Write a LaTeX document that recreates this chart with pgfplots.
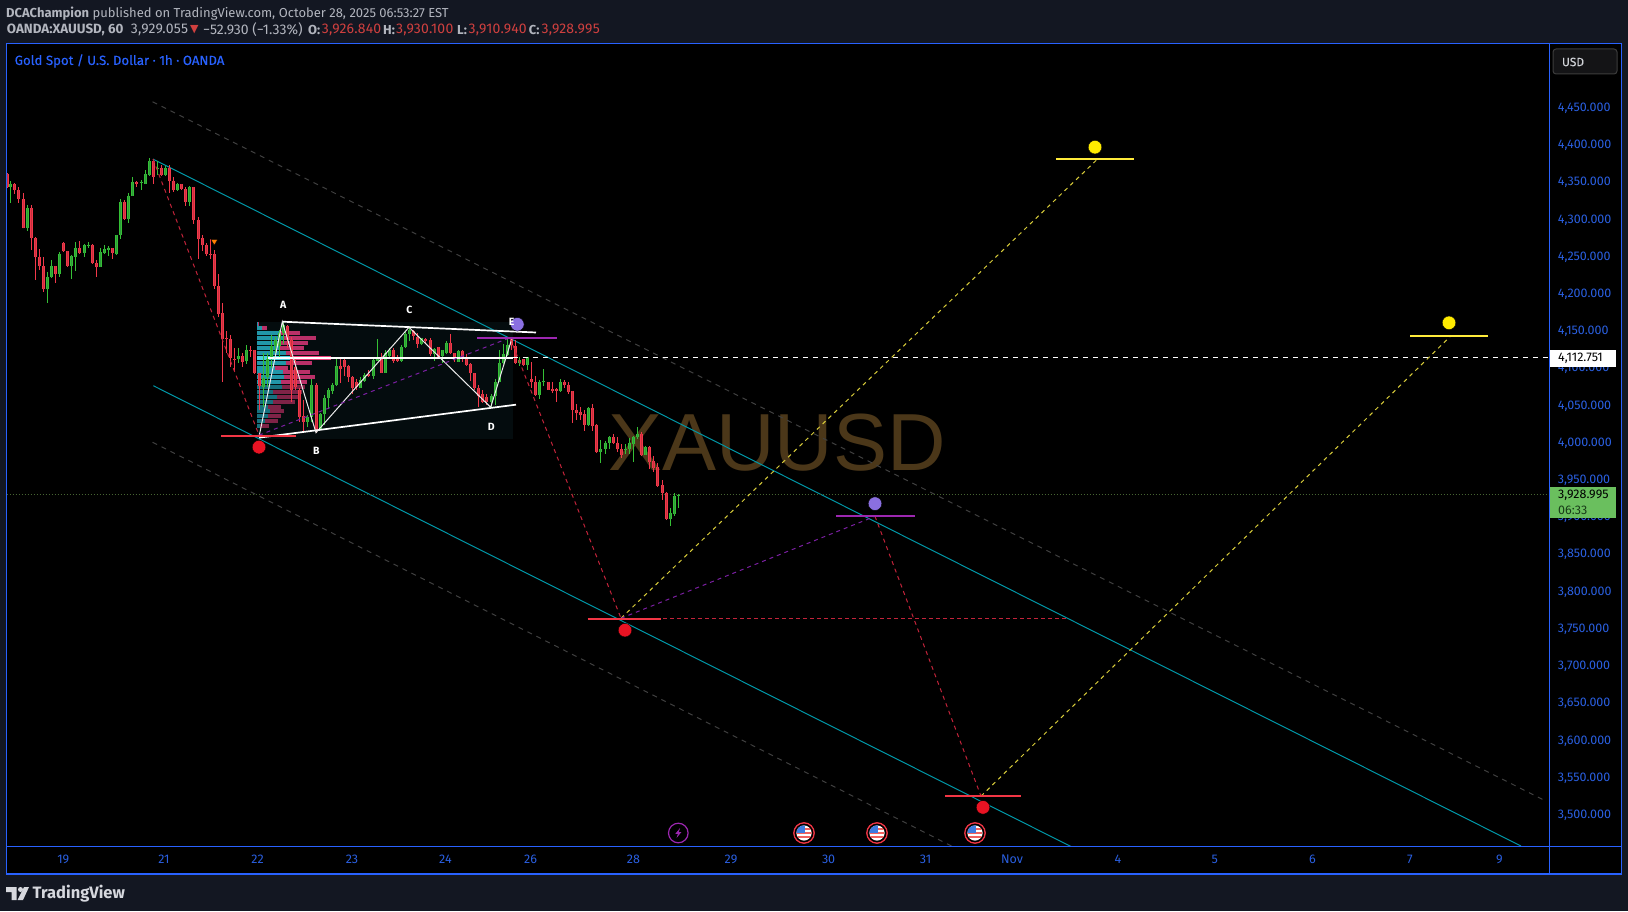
\documentclass[border=0pt]{standalone}
\usepackage{pgfplots}
\usepackage{pgfplotstable}
\pgfplotsset{compat=1.18}
\usepackage{fontspec}
\setmainfont{Fira Sans}
\newfontfamily\wmfont{Liberation Sans}
\newfontfamily\symfont{DejaVu Sans}
\newfontfamily\numfont[LetterSpace=1.6]{Fira Sans}
\newfontfamily\medfont[FakeBold=0.3]{Fira Sans}
\definecolor{pagebg}{HTML}{131722}
\definecolor{tvblue}{HTML}{2962FF}
\definecolor{ticktxt}{HTML}{2A5FE0}
\definecolor{headtxt}{HTML}{B2B5BE}
\definecolor{ohlcred}{HTML}{D0403F}
\definecolor{upc}{HTML}{35C035}
\definecolor{upin}{HTML}{2E9A3A}
\definecolor{dnc}{HTML}{F2384A}
\definecolor{dnin}{HTML}{C8303E}
\definecolor{teal1}{HTML}{0097A7}
\definecolor{graydash}{HTML}{404040}
\definecolor{redd}{HTML}{C2233A}
\definecolor{redl}{HTML}{F23645}
\definecolor{yell}{HTML}{D8CC3A}
\definecolor{yells}{HTML}{FFEB3B}
\definecolor{purd}{HTML}{7B1FA2}
\definecolor{purs}{HTML}{9C27B0}
\definecolor{purdot}{HTML}{8A6FE0}
\definecolor{volT}{HTML}{2196A8}
\definecolor{volP}{HTML}{B93068}
\definecolor{volTd}{HTML}{17707E}
\definecolor{volPd}{HTML}{7F2347}
\definecolor{volTh}{HTML}{4DD0E1}
\definecolor{volPh}{HTML}{EC407A}
\definecolor{flagblue}{HTML}{3D7BE0}
\definecolor{flagred}{HTML}{F0625F}
\definecolor{panelbg}{RGB}{4,12,14}
\definecolor{wmark}{RGB}{75,55,25}
\definecolor{lastline}{RGB}{70,100,50}
\definecolor{reddot}{RGB}{233,19,35}
\definecolor{yeldot}{RGB}{255,235,0}
\definecolor{lastbox}{RGB}{106,191,94}
\definecolor{lasttime}{RGB}{25,60,25}
\definecolor{btnline}{RGB}{60,60,60}
\definecolor{btnfill}{RGB}{20,20,22}
\definecolor{footer}{HTML}{D6D8DE}

\pgfdeclareplotmark{usflag}{%
  \pgfsetlinewidth{1.3pt}\pgfsetstrokecolor{redl}%
  \pgfpathcircle{\pgfpointorigin}{10.2pt}\pgfusepath{stroke}%
  \pgfsetfillcolor{white}%
  \pgfpathcircle{\pgfpointorigin}{7.6pt}\pgfusepath{fill}%
  \pgfscope
  \pgfpathcircle{\pgfpointorigin}{7.6pt}\pgfusepath{clip}%
  \pgfsetfillcolor{flagred}%
  \pgfpathrectangle{\pgfpoint{-8pt}{2.6pt}}{\pgfpoint{16pt}{2pt}}\pgfusepath{fill}%
  \pgfpathrectangle{\pgfpoint{-8pt}{-1pt}}{\pgfpoint{16pt}{2pt}}\pgfusepath{fill}%
  \pgfpathrectangle{\pgfpoint{-8pt}{-5.4pt}}{\pgfpoint{16pt}{2.4pt}}\pgfusepath{fill}%
  \pgfsetfillcolor{flagblue}%
  \pgfpathrectangle{\pgfpoint{-8pt}{0.4pt}}{\pgfpoint{8.6pt}{8pt}}\pgfusepath{fill}%
  \endpgfscope
}
\pgfdeclareplotmark{boltmark}{%
  \pgfsetlinewidth{1.2pt}\pgfsetstrokecolor{purs}%
  \pgfpathcircle{\pgfpointorigin}{9.8pt}\pgfusepath{stroke}%
  \pgfsetfillcolor{purs}%
  \pgfpathmoveto{\pgfpoint{1.8pt}{5pt}}%
  \pgfpathlineto{\pgfpoint{-3pt}{-0.8pt}}%
  \pgfpathlineto{\pgfpoint{-0.4pt}{-0.8pt}}%
  \pgfpathlineto{\pgfpoint{-1.8pt}{-5pt}}%
  \pgfpathlineto{\pgfpoint{3pt}{0.8pt}}%
  \pgfpathlineto{\pgfpoint{0.4pt}{0.8pt}}%
  \pgfpathclose\pgfusepath{fill}%
}

\pgfplotstableread{
x o h l c
7.3 4360 4361 4342 4343
14.3 4347 4348 4333 4339
18.3 4339 4342 4321 4327
23.3 4327 4335 4287 4287
31.3 4314 4318 4258 4274
35.3 4274 4275 4217 4248
39.3 4248 4259 4231 4237
43.3 4237 4248 4201 4205
55.3 4236 4237 4213 4225
63.3 4267 4269 4255 4256
67.3 4256 4256 4235 4237
79.3 4261 4270 4253 4254
92.3 4265 4266 4239 4240
96.3 4240 4245 4222 4235
112.3 4260 4260 4246 4254
124.3 4323 4325 4299 4300
136.3 4349 4350 4342 4347
153.3 4377 4380 4347 4356
161.3 4368 4372 4357 4359
169.3 4368 4372 4334 4350
173.3 4350 4356 4336 4338
181.3 4346 4347 4339 4340
185.3 4340 4343 4317 4323
193.3 4343 4343 4293 4298
198.3 4298 4302 4246 4273
202.3 4274 4278 4256 4264
206.3 4264 4267 4250 4252
210.3 4253 4272 4246 4252
214.3 4253 4258 4205 4210
218.3 4210 4225 4168 4172
222.3 4173 4187 4081 4138
226.3 4139 4149 4119 4138
230.3 4138 4144 4101 4113
234.3 4112 4126 4094 4111
242.3 4115 4119 4101 4108
250.3 4124 4129 4114 4123
254.3 4123 4124 4091 4092
259.3 4092 4093 4043 4075
287.3 4156 4157 4126 4137
291.3 4137 4141 4054 4070
295.3 4101 4114 4070 4074
299.3 4070 4072 4027 4034
303.3 4035 4056 4014 4027
316.3 4076 4079 4012 4016
340.3 4102 4112 4079 4098
344.3 4110 4112 4088 4101
348.3 4102 4103 4080 4087
352.3 4087 4088 4065 4073
356.3 4081 4085 4070 4074
368.3 4091 4097 4087 4089
381.3 4111 4120 4093 4093
393.3 4124 4126 4106 4109
397.3 4111 4117 4108 4109
413.3 4149 4151 4137 4142
417.3 4141 4146 4126 4132
425.3 4138 4140 4132 4136
430.3 4137 4139 4116 4118
438.3 4127 4128 4111 4114
450.3 4133 4145 4118 4119
454.3 4119 4120 4108 4112
462.3 4122 4123 4108 4113
466.3 4112 4118 4102 4103
470.3 4105 4106 4082 4092
474.3 4092 4092 4070 4072
478.3 4073 4076 4047 4061
482.3 4065 4070 4052 4054
486.3 4060 4064 4050 4053
511.3 4138 4140 4123 4130
515.3 4129 4137 4105 4106
523.3 4111 4112 4102 4103
531.3 4085 4108 4072 4081
535.3 4081 4089 4062 4063
548.3 4081 4081 4070 4070
552.3 4071 4081 4066 4069
556.3 4071 4072 4054 4069
564.3 4080 4083 4073 4076
568.3 4077 4080 4065 4067
572.3 4068 4069 4025 4043
576.3 4043 4051 4029 4039
580.3 4040 4047 4029 4036
584.3 4037 4043 4015 4023
592.3 4045 4051 4014 4021
596.3 4023 4024 3985 3987
613.3 4006 4010 3998 3999
617.3 3999 4007 3986 3990
621.3 3990 3997 3979 3982
641.3 4010 4013 3982 3983
649.3 3993 3994 3964 3973
653.3 3974 3981 3960 3965
657.3 3966 3971 3940 3941
662.3 3942 3949 3922 3932
666.3 3932 3933 3896 3897
}\downcandles
\pgfplotstableread{
x o h l c
10.3 4342 4350 4321 4347
27.3 4287 4318 4284 4314
47.3 4205 4228 4186 4221
51.3 4221 4244 4220 4236
59.3 4225 4255 4222 4253
71.3 4237 4251 4219 4250
75.3 4249 4269 4230 4261
84.3 4254 4266 4249 4264
88.3 4263 4268 4261 4265
100.3 4235 4260 4235 4255
104.3 4254 4265 4252 4259
108.3 4258 4263 4250 4261
116.3 4253 4278 4251 4278
120.3 4278 4327 4273 4323
128.3 4300 4334 4294 4331
132.3 4331 4356 4330 4349
141.3 4348 4352 4338 4349
145.3 4347 4365 4347 4360
149.3 4359 4381 4357 4377
157.3 4366 4377 4359 4368
165.3 4359 4371 4357 4368
177.3 4338 4348 4337 4346
189.3 4323 4344 4317 4343
238.3 4111 4126 4106 4115
246.3 4109 4130 4105 4124
263.3 4074 4120 4047 4086
267.3 4087 4119 4074 4112
271.3 4112 4143 4099 4129
275.3 4129 4141 4119 4137
279.3 4129 4150 4114 4146
283.3 4146 4162 4132 4157
307.3 4027 4036 4020 4034
311.3 4033 4085 4027 4076
320.3 4016 4039 4016 4037
324.3 4037 4063 4023 4059
328.3 4059 4072 4044 4070
332.3 4069 4079 4065 4076
336.3 4076 4112 4075 4102
360.3 4073 4087 4072 4083
364.3 4082 4092 4081 4090
373.3 4089 4112 4085 4110
377.3 4109 4138 4109 4112
385.3 4093 4123 4092 4120
389.3 4115 4126 4114 4124
401.3 4109 4130 4108 4127
405.3 4127 4149 4126 4145
409.3 4145 4154 4135 4150
421.3 4132 4140 4130 4139
434.3 4118 4126 4109 4125
442.3 4115 4123 4106 4123
446.3 4119 4135 4118 4133
458.3 4108 4123 4107 4122
491.3 4054 4064 4047 4062
495.3 4061 4084 4050 4081
499.3 4080 4123 4080 4106
503.3 4106 4132 4105 4118
507.3 4117 4138 4115 4130
519.3 4106 4114 4102 4110
527.3 4103 4114 4097 4114
539.3 4063 4083 4058 4081
543.3 4081 4098 4075 4082
560.3 4068 4084 4067 4080
588.3 4023 4047 4022 4045
600.3 3987 4003 3972 3990
605.3 3990 4001 3984 3999
609.3 3998 4008 3991 4006
625.3 3989 3997 3984 3990
629.3 3990 4005 3984 3998
633.3 3997 4008 3973 4006
637.3 4006 4020 4004 4010
645.3 3983 3994 3982 3993
670.3 3897 3911 3887 3904
674.3 3903 3931 3900 3927
678.3 3927 3930 3911 3929
}\upcandles
% volume profile rows: price, buy width, sell width (chart x units)
\pgfplotstableread{
p t s
4158.5 1 1
4152.6 4.3 5
4146.8 22 20.7
4140.1 26 32.7
4133.4 22.7 28
4126.7 22.7 24
4119.9 28.7 33
4106.5 28.7 26
4099.8 17.7 13
4094.0 26 26.7
4087.2 27 30.7
4080.5 23.7 26
}\volrows
\pgfplotstableread{
p t s
4073.8 24.3 23
4067.1 15.3 29
4060.4 19.3 21.7
4053.6 15.3 22.3
4047.4 10.3 13.3
4041.1 12.7 14
4034.4 10.3 13.3
4028.1 7.7 12.7
4021.9 2.7 9
}\volrowsd
\pgfplotstableread{
p t s
4112.8 33.3 40
}\volrowsh

\pgfplotsset{
  wick/.style args={#1}{forget plot, draw=none, error bars/.cd, y dir=both, y explicit, error mark=none,
     error bar style={draw=#1, line width=1pt}},
  body/.style args={#1/#2}{forget plot, draw=none, error bars/.cd, y dir=both, y explicit, error mark=none,
     error bar style={draw=#1, line width=#2}},
  vol/.style args={#1}{forget plot, draw=none, error bars/.cd, x dir=plus, x explicit, error mark=none,
     error bar style={draw=#1, line width=4.1pt}},
}
\begin{document}
\begin{tikzpicture}
\useasboundingbox (0,0) rectangle (1628pt,911pt);
\fill[pagebg] (0,0) rectangle (1628pt,911pt);
\fill[black] (6.5pt,37pt) rectangle (1621.7pt,867.5pt);
\node[anchor=center, text=wmark, font=\wmfont\fontsize{81pt}{81pt}\selectfont] at (777pt,468pt) {XAUUSD};
\begin{axis}[
  at={(6.5pt,64.3pt)}, anchor=south west,
  scale only axis, width=1542.8pt, height=803.2pt,
  xmin=6.5, xmax=1549.3, ymin=3456.1, ymax=4535.3,
  axis line style={draw=none},
  major tick length=0pt,
  xtick={63.3,164,257.5,352,445.4,530.6,633.4,731,828.6,925.5,1012,1118,1214.8,1312.4,1410,1499.3},
  xticklabels={19,21,22,23,24,26,28,29,30,31,Nov,4,5,6,7,9},
  xticklabel style={anchor=center, yshift=-13pt, text=ticktxt, font=\fontsize{12.5pt}{14pt}\selectfont},
  ytick={3500,3550,...,4450},
  ytick pos=right, yticklabel pos=right,
  yticklabel style={anchor=west, xshift=5pt, yshift=-1.2pt, text=ticktxt, font=\fontsize{12.5pt}{14pt}\selectfont,
     /pgf/number format/.cd, fixed, fixed zerofill, precision=3, 1000 sep={,}, assume math mode=true},
  scaled y ticks=false,
  clip=true,
]
% volume profile panel
\addplot[forget plot, draw=none, fill=panelbg] coordinates {(257.3,4161.5)(513.3,4161.5)(513.3,4004)(257.3,4004)} -- cycle;
\addplot[vol={volT}] table[x expr=257.3, y=p, x error plus=t]{\volrows};
\addplot[vol={volP}] table[x expr=257.3+\thisrow{t}, y=p, x error plus=s]{\volrows};
\addplot[vol={volTd}] table[x expr=257.3, y=p, x error plus=t]{\volrowsd};
\addplot[vol={volPd}] table[x expr=257.3+\thisrow{t}, y=p, x error plus=s]{\volrowsd};
\addplot[vol={volTh}] table[x expr=257.3, y=p, x error plus=t]{\volrowsh};
\addplot[vol={volPh}] table[x expr=257.3+\thisrow{t}, y=p, x error plus=s]{\volrowsh};
% channel
\addplot[forget plot, teal1, line width=1pt] coordinates {(153,4380)(1521,3457)};
\addplot[forget plot, teal1, line width=1pt] coordinates {(153.3,4075.5)(1071.5,3456)};
\addplot[forget plot, graydash, line width=1pt, dash pattern=on 5pt off 5pt] coordinates {(152.6,4457)(1545,3518)};
\addplot[forget plot, graydash, line width=1pt, dash pattern=on 5pt off 5pt] coordinates {(152.6,3999.5)(953,3456)};
% last price line
\addplot[forget plot, lastline, line width=0.8pt, dash pattern=on 1pt off 2pt] coordinates {(6.5,3928.995)(1549.3,3928.995)};
% candles
\addplot[wick={dnc}] table[x=x, y=c, y error plus expr=\thisrow{h}-\thisrow{c}, y error minus expr=\thisrow{c}-\thisrow{l}]{\downcandles};
\addplot[wick={upc}] table[x=x, y=c, y error plus expr=\thisrow{h}-\thisrow{c}, y error minus expr=\thisrow{c}-\thisrow{l}]{\upcandles};
\addplot[body={dnc/3.2pt}] table[x=x, y=c, y error plus expr=\thisrow{o}-\thisrow{c}, y error minus expr=0]{\downcandles};
\addplot[body={upc/3.2pt}] table[x=x, y=c, y error plus expr=0, y error minus expr=\thisrow{c}-\thisrow{o}]{\upcandles};
\addplot[body={dnin/1.2pt}] table[x=x, y=c, y error plus expr=\thisrow{o}-\thisrow{c}, y error minus expr=0]{\downcandles};
\addplot[body={upin/1.2pt}] table[x=x, y=c, y error plus expr=0, y error minus expr=\thisrow{c}-\thisrow{o}]{\upcandles};
% XABCD pattern
\addplot[forget plot, white, line width=1.7pt] coordinates {(282.3,4161.5)(536,4147)};
\addplot[forget plot, white, line width=1.7pt] coordinates {(259,4005.7)(516,4050)};
\addplot[forget plot, white, line width=1.5pt] coordinates {(268,4112.751)(513,4112.751)};
\addplot[forget plot, white, line width=1pt, dash pattern=on 5pt off 5pt] coordinates {(513,4112.751)(1549.3,4112.751)};
\addplot[forget plot, white!85!gray, line width=1pt] coordinates {(259,4006.6)(282.3,4161.5)(316,4012.4)(409,4154)(490.7,4046.5)(511.7,4138)};
% wave projections
\addplot[forget plot, redd, line width=1pt, dash pattern=on 4pt off 4pt] coordinates {(153,4380)(259,4009)};
\addplot[forget plot, redd, line width=1pt, dash pattern=on 4pt off 4pt] coordinates {(510,4140)(621,3763)};
\addplot[forget plot, redd, line width=1pt, dash pattern=on 4pt off 4pt] coordinates {(875,3900)(981,3524)};
\addplot[forget plot, redd, line width=0.6pt, dash pattern=on 4pt off 3pt] coordinates {(628,3763)(1066,3763)};
\addplot[forget plot, yell, line width=1pt, dash pattern=on 4pt off 4pt] coordinates {(621,3763)(1097.5,4380)};
\addplot[forget plot, yell, line width=1pt, dash pattern=on 4pt off 4pt] coordinates {(981,3524)(1450.5,4142)};
\addplot[forget plot, purd, line width=1pt, dash pattern=on 4pt off 4pt] coordinates {(259,4009)(510,4140)};
\addplot[forget plot, purd, line width=1pt, dash pattern=on 4pt off 4pt] coordinates {(621,3763)(875,3900)};
% horizontal targets
\addplot[forget plot, redl, line width=2pt] coordinates {(221,4008.4)(296,4008.4)};
\addplot[forget plot, redl, line width=2pt] coordinates {(587.6,3762.7)(661.4,3762.7)};
\addplot[forget plot, redl, line width=2pt] coordinates {(945,3524.6)(1020.7,3524.6)};
\addplot[forget plot, purs, line width=1.7pt] coordinates {(477.3,4140)(556.7,4140)};
\addplot[forget plot, purs, line width=1.7pt] coordinates {(836,3900)(914.7,3900)};
\addplot[forget plot, yells, line width=1.7pt] coordinates {(1056,4380)(1134,4380)};
\addplot[forget plot, yells, line width=1.7pt] coordinates {(1410,4142)(1488,4142)};
% dots
\addplot[forget plot, only marks, mark=*, mark size=6.8pt, mark options={fill=reddot, draw=none}] coordinates {(259,3993)(625,3747)(983,3509)};
\addplot[forget plot, only marks, mark=*, mark size=6.8pt, mark options={fill=purdot, draw=none}] coordinates {(517.3,4158)(875,3917)};
\addplot[forget plot, only marks, mark=*, mark size=6.8pt, mark options={fill=yeldot, draw=none}] coordinates {(1095,4396)(1449,4160)};
% alert triangle
\addplot[forget plot, only marks, mark=triangle*, mark size=4pt, mark options={rotate=180, fill=orange, draw=none}] coordinates {(214.3,4269.5)};
% events
\addplot[forget plot, only marks, mark=boltmark] coordinates {(678.3,3474.5)};
\addplot[forget plot, only marks, mark=usflag] coordinates {(804,3474.5)(877,3474.5)(975,3474.5)};
\end{axis}
% frame
\draw[tvblue, line width=1.3pt] (6.5pt,37pt) rectangle (1621.7pt,867.5pt);
\draw[tvblue, line width=1.3pt] (1549.3pt,37pt) -- (1549.3pt,867.5pt);
\draw[tvblue, line width=1.3pt] (6.5pt,64.3pt) -- (1621.7pt,64.3pt);
% price labels
\fill[white] (1550pt,544.3pt) rectangle (1616pt,561pt);
\node[anchor=west, inner sep=0pt, text=black, font=\fontsize{12.5pt}{14pt}\selectfont] at (1558pt,552.5pt) {4,112.751};
\fill[lastbox] (1550pt,393.3pt) rectangle (1616pt,423.7pt);
\node[anchor=west, inner sep=0pt, text=black, font=\fontsize{12.5pt}{14pt}\selectfont] at (1558pt,415.8pt) {3,928.995};
\node[anchor=west, inner sep=0pt, text=lasttime, font=\fontsize{12.5pt}{14pt}\selectfont] at (1558pt,401pt) {06:33};
% scale button
\draw[btnline, fill=btnfill, rounded corners=3pt, line width=1pt] (1553pt,837pt) rectangle (1617pt,862pt);
\node[text=headtxt!60!white, font=\medfont\fontsize{12pt}{14pt}\selectfont] at (1573pt,849pt) {USD};
% wave letters
\foreach \t/\a/\b in {A/283.3/606,B/316.3/460,C/409.3/601,D/491.3/484.3,E/511.7/588.7}{
  \node[text=white, font=\bfseries\fontsize{10.5pt}{12pt}\selectfont] at (\a pt,\b pt) {\t};
}
% header
\node[anchor=west, inner sep=0pt, text=headtxt, font=\fontsize{13pt}{15pt}\selectfont] at (6pt,897.6pt) {\textbf{DCAChampion} published on TradingView.com, October 28, 2025 06:53:27 EST};
\node[anchor=west, inner sep=0pt, text=headtxt, font=\bfseries\fontsize{13.4pt}{15pt}\selectfont] at (6.7pt,881pt) {OANDA:XAUUSD, 60};
\node[anchor=west, inner sep=0pt, text=headtxt, font=\numfont\fontsize{14pt}{15pt}\selectfont] at (130.7pt,881pt) {3,929.055};
\node[anchor=west, inner sep=0pt, text=ohlcred, font=\symfont\fontsize{11pt}{12pt}\selectfont] at (190pt,881pt) {▼};
\node[anchor=west, inner sep=0pt, text=headtxt, font=\fontsize{14pt}{15pt}\selectfont] at (203pt,881pt) {−52.930 (−1.33\%)};
\foreach \lab/\val/\xa/\xb in {O/3{,}926.840/308/321.6, H/3{,}930.100/383/396, L/3{,}910.940/457/468.5, C/3{,}928.995/528.7/541.4}{
  \node[anchor=west, inner sep=0pt, text=headtxt, font=\bfseries\fontsize{13pt}{15pt}\selectfont] at (\xa pt,881pt) {\lab:};
  \node[anchor=west, inner sep=0pt, text=ohlcred, font=\numfont\fontsize{14pt}{15pt}\selectfont] at (\xb pt,881pt) {\val};
}
\node[anchor=west, inner sep=0pt, text=tvblue, font=\medfont\fontsize{13.2pt}{15pt}\selectfont] at (14.5pt,850pt) {Gold Spot / U.S. Dollar · 1h · OANDA};
% footer logo
\fill[footer] (6pt,24pt) -- (16.5pt,24pt) -- (16.5pt,11pt) -- (11.5pt,11pt) -- (11.5pt,19pt) -- (6pt,19pt) -- cycle;
\fill[footer] (20.5pt,21.5pt) circle (2.5pt);
\fill[footer] (24pt,24pt) -- (29pt,24pt) -- (23pt,11pt) -- (17.5pt,11pt) -- cycle;
\node[anchor=west, inner sep=0pt, text=footer, font=\bfseries\fontsize{16.5pt}{18pt}\selectfont] at (32.5pt,17.5pt) {TradingView};
\end{tikzpicture}
\end{document}
